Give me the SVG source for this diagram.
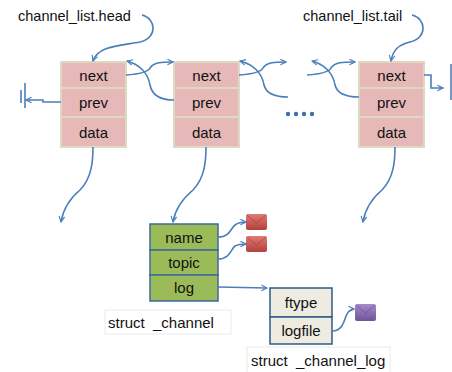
<svg xmlns="http://www.w3.org/2000/svg" width="452" height="372" viewBox="0 0 452 372">
  <style>
    text { font-family: "Liberation Sans", Arial, sans-serif; fill: #111; }
    .cell { fill: #E6B9B8; stroke: #DDD9C3; stroke-width: 2; }
    .gcell { fill: #9BBB59; stroke: #3C6A9A; stroke-width: 1.5; }
    .lcell { fill: #EEECE1; stroke: #2F5B85; stroke-width: 1.5; }
    .lbl { font-size: 14.5px; }
    .capt { font-size: 15px; white-space: pre; }
    .ctr { font-size: 15px; text-anchor: middle; }
    .conn path, .conn line { fill: none; stroke: #4A7EBB; stroke-width: 1.6; }
    .cap { fill: #fff; stroke: #EAEAEA; stroke-width: 1; }
  </style>
  <defs>
    <marker id="arr" viewBox="0 0 10 10" refX="9" refY="5" markerWidth="7" markerHeight="7" orient="auto" markerUnits="userSpaceOnUse">
      <path d="M1,1 L9,5 L1,9" fill="none" stroke="#4A7EBB" stroke-width="1.6"/>
    </marker>
    <linearGradient id="redg" x1="0" y1="0" x2="0" y2="1">
      <stop offset="0" stop-color="#E07A76"/>
      <stop offset="1" stop-color="#B3403D"/>
    </linearGradient>
    <linearGradient id="purg" x1="0" y1="0" x2="0" y2="1">
      <stop offset="0" stop-color="#A58CC8"/>
      <stop offset="1" stop-color="#6E539A"/>
    </linearGradient>
  </defs>

  <!-- pointer labels -->
  <text class="lbl" x="18" y="21">channel_list.head</text>
  <text class="lbl" x="303" y="21">channel_list.tail</text>

  <!-- list node 1 -->
  <g id="node1">
    <rect class="cell" x="61" y="62" width="65" height="26"/>
    <rect class="cell" x="61" y="88" width="65" height="29"/>
    <rect class="cell" x="61" y="117" width="65" height="30"/>
    <text class="ctr" x="93.5" y="81">next</text>
    <text class="ctr" x="93.5" y="108">prev</text>
    <text class="ctr" x="93.5" y="138">data</text>
  </g>

  <!-- list node 2 -->
  <g id="node2">
    <rect class="cell" x="174" y="62" width="65" height="26"/>
    <rect class="cell" x="174" y="88" width="65" height="29"/>
    <rect class="cell" x="174" y="117" width="65" height="30"/>
    <text class="ctr" x="206.5" y="81">next</text>
    <text class="ctr" x="206.5" y="108">prev</text>
    <text class="ctr" x="206.5" y="138">data</text>
  </g>

  <!-- ellipsis between nodes -->
  <g id="ellipsis" fill="#3F6DA5">
    <circle cx="288" cy="114" r="2.2"/>
    <circle cx="296" cy="114" r="2.2"/>
    <circle cx="304" cy="114" r="2.2"/>
    <circle cx="312" cy="114" r="2.2"/>
  </g>

  <!-- list node 3 (tail) -->
  <g id="node3">
    <rect class="cell" x="359" y="62" width="65" height="26"/>
    <rect class="cell" x="359" y="88" width="65" height="29"/>
    <rect class="cell" x="359" y="117" width="65" height="30"/>
    <text class="ctr" x="391.5" y="81">next</text>
    <text class="ctr" x="391.5" y="108">prev</text>
    <text class="ctr" x="391.5" y="138">data</text>
  </g>

  <!-- struct _channel -->
  <g id="channel">
    <rect class="gcell" x="150" y="224" width="68" height="26"/>
    <rect class="gcell" x="150" y="250" width="68" height="25"/>
    <rect class="gcell" x="150" y="275" width="68" height="26"/>
    <text class="ctr" x="184" y="243">name</text>
    <text class="ctr" x="184" y="268">topic</text>
    <text class="ctr" x="184" y="293">log</text>
  </g>
  <g id="channel-caption">
    <rect class="cap" x="105" y="310" width="126" height="24"/>
    <text class="capt" x="108" y="328" xml:space="preserve">struct  _channel</text>
  </g>

  <!-- string payloads -->
  <g id="name-str">
    <rect x="246" y="214" width="21" height="16" rx="2" fill="url(#redg)"/>
    <path d="M247,215 L256.5,223 L266,215" fill="none" stroke="#9E3431" stroke-width="0.8" opacity="0.7"/>
  </g>
  <g id="topic-str">
    <rect x="246" y="236" width="21" height="16" rx="2" fill="url(#redg)"/>
    <path d="M247,237 L256.5,245 L266,237" fill="none" stroke="#9E3431" stroke-width="0.8" opacity="0.7"/>
  </g>

  <!-- struct _channel_log -->
  <g id="channel-log">
    <rect class="lcell" x="270" y="288" width="62" height="29"/>
    <rect class="lcell" x="270" y="317" width="62" height="27"/>
    <text class="ctr" x="301" y="308">ftype</text>
    <text class="ctr" x="301" y="336">logfile</text>
  </g>
  <g id="channel-log-caption">
    <rect class="cap" x="247" y="347" width="143" height="26"/>
    <text class="capt" x="251" y="366" xml:space="preserve">struct  _channel_log</text>
  </g>

  <!-- log file payload -->
  <g id="logfile-obj">
    <rect x="355" y="304" width="21" height="17" rx="2" fill="url(#purg)"/>
    <path d="M356,305 L365.5,313 L375,305" fill="none" stroke="#5E4689" stroke-width="0.8" opacity="0.7"/>
  </g>

  <!-- connectors -->
  <g class="conn">
    <path d="M142,15 C156,18 158,38 140,42 C118,46 98,46 93,61" marker-end="url(#arr)"/>
    <path d="M412,15 C426,18 428,38 410,42 C398,45 393,50 391,61" marker-end="url(#arr)"/>

    <path d="M126,75 C140,74 148,72 150,68 C154,62 162,62 173,62" marker-end="url(#arr)"/>
    <path d="M174,100 C160,100 152,95 150,85 C148,72 138,64 127,61" marker-end="url(#arr)"/>
    <path d="M239,75 C253,74 261,72 263,68 C267,62 275,62 286,62" marker-end="url(#arr)"/>
    <path d="M288,97 C274,97 266,93 264,85 C262,72 252,64 240,61" marker-end="url(#arr)"/>
    <path d="M307,75 C321,74 329,72 331,68 C335,62 343,62 355,62" marker-end="url(#arr)"/>
    <path d="M359,97 C345,97 337,93 335,85 C333,72 323,64 312,61" marker-end="url(#arr)"/>

    <!-- null terminators -->
    <path d="M61,102 H43 V100 H26" marker-end="url(#arr)"/>
    <line x1="25" y1="83" x2="25" y2="108"/>
    <line x1="21" y1="90" x2="21" y2="103"/>
    <path d="M424,75 H431 V88 H443" marker-end="url(#arr)"/>
    <line x1="451" y1="64" x2="451" y2="100"/>

    <!-- data pointers -->
    <path d="M93,147 C93,160 92,178 80,190 C68,200 63,210 61,222" marker-end="url(#arr)"/>
    <path d="M206,147 C206,160 205,178 193,190 C181,200 175,210 173,222" marker-end="url(#arr)"/>
    <path d="M395,147 C395,160 394,178 382,190 C370,200 365,210 363,222" marker-end="url(#arr)"/>

    <!-- channel fields -->
    <path d="M218,237 C230,237 231,228 235,225 C239,222 242,222 246,222" marker-end="url(#arr)"/>
    <path d="M218,259 C230,259 231,249 235,246 C239,244 242,244 246,244" marker-end="url(#arr)"/>
    <path d="M218,287 L267,288" marker-end="url(#arr)"/>
    <path d="M332,331 C342,331 344,322 346,316 C348,311 350,309 354,309" marker-end="url(#arr)"/>
  </g>
</svg>
